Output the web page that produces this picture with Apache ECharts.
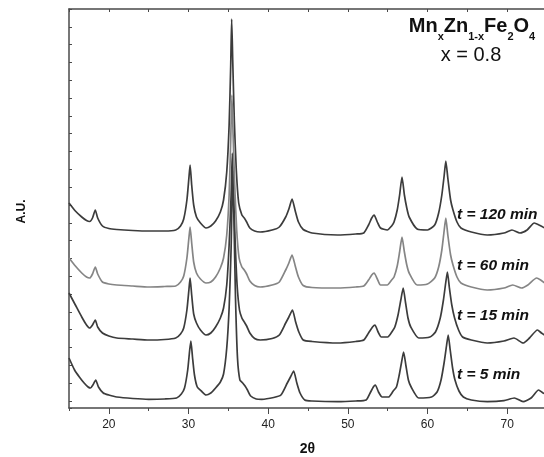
<!DOCTYPE html>
<html>
<head>
<meta charset="utf-8">
<script src="https://cdn.jsdelivr.net/npm/echarts@6/dist/echarts.min.js"></script>
<style>
html,body{margin:0;padding:0;background:#fff;}
#chart{width:544px;height:457px;}
</style>
</head>
<body>
<div id="chart"></div>
<script>
// 2θ (degrees) vs intensity (A.U., stacked traces)
const trace120 = [[15,205],[15.8,197],[16.6,191],[17.2,187.5],[17.6,186.5],[17.95,190],[18.3,198],[18.6,190],[19.2,182],[20,179.5],[21,178.5],[23,177.5],[25,177],[27,177],[28.4,178],[29,182],[29.4,189],[29.8,208],[30.05,230],[30.2,243],[30.4,223],[30.65,203],[31,191],[31.5,185],[32.2,180],[32.8,182],[33.4,187],[34,196],[34.4,208],[34.8,236],[35.1,283],[35.3,343],[35.42,389],[35.55,348],[35.75,288],[36,238],[36.3,205],[36.7,193],[37,190],[37.3,186],[37.7,180],[38.3,177],[39,176],[40.5,178],[41.4,181],[42.2,191],[42.6,199],[43,209],[43.4,197],[43.8,186],[44.4,178.5],[45.5,175],[48.7,173],[51,174],[52,175],[52.6,183],[53,190],[53.3,193],[53.7,186],[54.1,180],[54.95,178],[55.5,182],[55.8,186],[56.2,198],[56.5,213],[56.8,231],[57.1,213],[57.4,200],[57.7,191],[58.7,179],[60,178],[60.9,183],[61.4,195],[61.8,213],[62.1,233],[62.3,247],[62.55,230],[62.9,208],[63.2,198],[63.7,186],[64.2,180],[65.5,176],[67.5,173],[69.6,175],[70.6,178],[71.6,175],[72.5,178],[73.4,185],[74,183],[74.7,180],[75,178]];
const trace60 = [[15,150],[15.8,142],[16.6,135],[17.2,131],[17.6,130],[17.95,134],[18.3,141],[18.6,134],[19.2,126],[20,124],[21,123],[23,122],[25,121],[27,121.5],[28.4,122],[29,126],[29.4,132],[29.8,150],[30.05,170],[30.2,181],[30.4,165],[30.65,146],[31,135],[31.5,129],[32.2,125],[32.8,126],[33.4,131],[34,140],[34.4,150],[34.8,173],[35.1,213],[35.3,268],[35.45,313],[35.6,273],[35.8,223],[36.05,178],[36.35,150],[36.7,141],[37,138],[37.3,134],[37.7,127],[38.3,122.5],[39,121],[40.5,123],[41.4,126],[42.2,138],[42.6,145],[43,153],[43.4,142],[43.8,131],[44.4,122.5],[45.5,120.5],[48.7,120],[51,121],[52,122],[52.6,128],[53,133],[53.3,135],[53.7,129],[54.1,123],[54.95,123],[55.5,128],[55.8,131],[56.2,142],[56.5,156],[56.8,171],[57.1,156],[57.4,143],[57.7,135],[58.7,123],[60,124],[60.9,130],[61.4,141],[61.8,158],[62.1,178],[62.3,190],[62.55,173],[62.9,153],[63.2,143],[63.7,131],[64.2,125],[65.5,121],[67.5,118],[69.6,120],[70.7,123],[71.8,120],[72.6,123],[73.7,130],[74.2,128],[74.7,125],[75,123]];
const trace15 = [[15,115],[15.8,103],[16.6,91],[17.2,83],[17.6,80],[17.95,83],[18.3,88],[18.6,81],[19.2,75],[20,72],[21,70],[23,69],[25,68],[27,68.5],[28.4,70],[29,74],[29.4,80],[29.8,98],[30.05,118],[30.2,130],[30.4,113],[30.65,94],[31,85],[31.5,78],[32.2,73],[32.8,75],[33.4,81],[34,90],[34.4,100],[34.8,123],[35.1,163],[35.35,213],[35.5,255],[35.65,218],[35.85,168],[36.1,123],[36.4,98],[36.7,90],[37,86],[37.3,82],[37.7,75],[38.3,69.5],[39,68],[40.5,69.5],[41.4,73],[42.2,85],[42.6,91],[43.05,98],[43.45,86],[43.85,76],[44.4,68],[45.5,66.5],[48.7,65],[51,66.5],[52,68],[52.6,75],[53.1,81],[53.4,83],[53.8,76],[54.2,71],[55,71],[55.6,77],[55.9,81],[56.3,93],[56.65,108],[56.95,120],[57.25,105],[57.55,90],[57.9,81],[58.9,70],[60.3,71],[61,76],[61.6,90],[62,108],[62.3,126],[62.5,136],[62.75,120],[63.05,103],[63.4,90],[63.9,78],[64.4,71],[65.5,68],[67.5,65],[69.6,67],[70.85,70],[72,65],[72.8,70],[73.8,78],[74.3,75],[74.7,73],[75,72]];
const trace5 = [[15,50],[15.7,38],[16.3,31],[16.9,25],[17.4,21],[17.7,20],[18,23],[18.35,28],[18.7,21],[19.3,15],[20,13],[21,11],[23,9.5],[25,8.7],[27,9],[28.5,10],[29.1,14],[29.5,20],[29.9,38],[30.15,58],[30.3,67],[30.5,51],[30.75,33],[31.1,21],[31.6,17],[32.2,13],[32.8,15],[33.4,20],[34,26],[34.4,34],[34.8,60],[35.1,100],[35.35,160],[35.55,238],[35.7,190],[35.9,110],[36.15,50],[36.45,28],[36.8,25],[37.1,22],[37.4,18],[37.8,12],[38.5,9],[39.2,8.7],[40.7,10.5],[41.6,13],[42.4,25],[42.8,31],[43.2,37],[43.6,25],[44,15],[44.6,8],[45.5,7],[48.7,6.3],[51,7],[52.3,8],[52.8,15],[53.2,21],[53.45,23],[53.85,16],[54.3,11],[55.1,11],[55.7,17],[56.1,21],[56.45,33],[56.75,46],[57,56],[57.3,42],[57.6,28],[57.95,21],[58.9,10],[60.5,11],[61.2,16],[61.7,28],[62.1,46],[62.4,63],[62.6,73],[62.85,58],[63.15,40],[63.45,28],[63.95,17],[64.5,11],[65.5,8],[67.5,6.3],[69.6,7.3],[70.9,10],[72,6.3],[73,10],[73.95,18],[74.5,15],[75,14]];

const xTickLabels = [20, 30, 40, 50, 60, 70];
const traceNames = ['t = 120 min', 't = 60 min', 't = 15 min', 't = 5 min'];

const chart = echarts.init(document.getElementById('chart'), null, {renderer: 'canvas'});
const axisColor = '#4a4a4a';
const dark = '#3c3c3c';
const gray = '#858585';
const font = 'Liberation Sans, Arial, Helvetica, sans-serif';

function lineSeries(name, data, color) {
  return {
    name: name, type: 'line', data: data, xAxisIndex: 0, yAxisIndex: 0,
    showSymbol: false, symbol: 'none', smooth: 0.2,
    lineStyle: {color: color, width: 1.7}, itemStyle: {color: color},
    emphasis: {disabled: true}, silent: true, clip: true
  };
}

const labelX = 457;
const labelY = [214.5, 265.5, 316, 375];

chart.setOption({
  animation: false,
  backgroundColor: '#ffffff',
  grid: {left: 69, right: -3, top: 9, bottom: 49, show: false, outerBoundsMode: 'none', containLabel: false},
  xAxis: [
    {type: 'value', gridIndex: 0, min: 15, max: 75, interval: 5, position: 'bottom',
     axisLine: {show: true, onZero: false, lineStyle: {color: axisColor, width: 1.5}},
     axisTick: {show: true, length: 3, lineStyle: {color: axisColor, width: 1}},
     axisLabel: {show: false}, splitLine: {show: false}},
    {type: 'value', gridIndex: 0, min: 15, max: 75, position: 'bottom',
     axisLine: {show: false, onZero: false},
     axisTick: {show: true, length: 6, customValues: xTickLabels, lineStyle: {color: axisColor, width: 1}},
     axisLabel: {show: true, customValues: xTickLabels, fontSize: 12, margin: 11, color: '#222', fontFamily: font},
     splitLine: {show: false}},
    {type: 'value', gridIndex: 0, show: true, min: 15, max: 75, interval: 5, position: 'top',
     axisLine: {show: true, onZero: false, lineStyle: {color: axisColor, width: 1.5}},
     axisTick: {show: true, inside: true, length: 3, lineStyle: {color: axisColor, width: 1}},
     axisLabel: {show: false}, splitLine: {show: false}}
  ],
  yAxis: [
    {type: 'value', gridIndex: 0, min: 0, max: 399, position: 'left',
     axisLine: {show: true, onZero: false, lineStyle: {color: axisColor, width: 1.5}},
     axisTick: {show: false}, axisLabel: {show: false}, splitLine: {show: false}},
    {type: 'value', gridIndex: 0, min: 0, max: 22.4, interval: 1, inverse: true, position: 'left',
     axisLine: {show: false, onZero: false},
     axisTick: {show: true, inside: true, length: 3, lineStyle: {color: axisColor, width: 1}},
     axisLabel: {show: false}, splitLine: {show: false}}
  ],
  series: [
    lineSeries(traceNames[3], trace5, dark),
    lineSeries(traceNames[2], trace15, dark),
    lineSeries(traceNames[0], trace120, dark),
    lineSeries(traceNames[1], trace60, gray)
  ],
  graphic: [
    {type: 'text', silent: true,
     style: {x: 472, y: 10, align: 'center', verticalAlign: 'top',
       text: '{a|Mn}{b|x}{a|Zn}{b|1-x}{a|Fe}{b|2}{a|O}{b|4}',
       rich: {
         a: {fontSize: 20, fontWeight: 'bold', fontFamily: font, lineHeight: 32, fill: '#111'},
         b: {fontSize: 11, fontWeight: 'bold', fontFamily: font, lineHeight: 10, verticalAlign: 'bottom', fill: '#111'}
       }}},
    {type: 'text', silent: true,
     style: {x: 471, y: 55, align: 'center', verticalAlign: 'middle', text: 'x = 0.8',
       font: '20px ' + font, fill: '#111'}},
    {type: 'text', silent: true, x: 21.5, y: 211.5, rotation: Math.PI / 2,
     style: {x: 0, y: 0, align: 'center', verticalAlign: 'middle', text: 'A.U.',
       font: 'bold 12px ' + font, fill: '#111'}},
    {type: 'text', silent: true,
     style: {x: 307.5, y: 449, align: 'center', verticalAlign: 'middle', text: '2θ',
       font: 'bold 14px ' + font, fill: '#111'}}
  ].concat(traceNames.map(function (t, i) {
    return {type: 'text', silent: true,
      style: {x: labelX, y: labelY[i], align: 'left', verticalAlign: 'middle', text: t,
        font: 'italic bold 15.5px ' + font, fill: '#111'}};
  }))
});
</script>
</body>
</html>
